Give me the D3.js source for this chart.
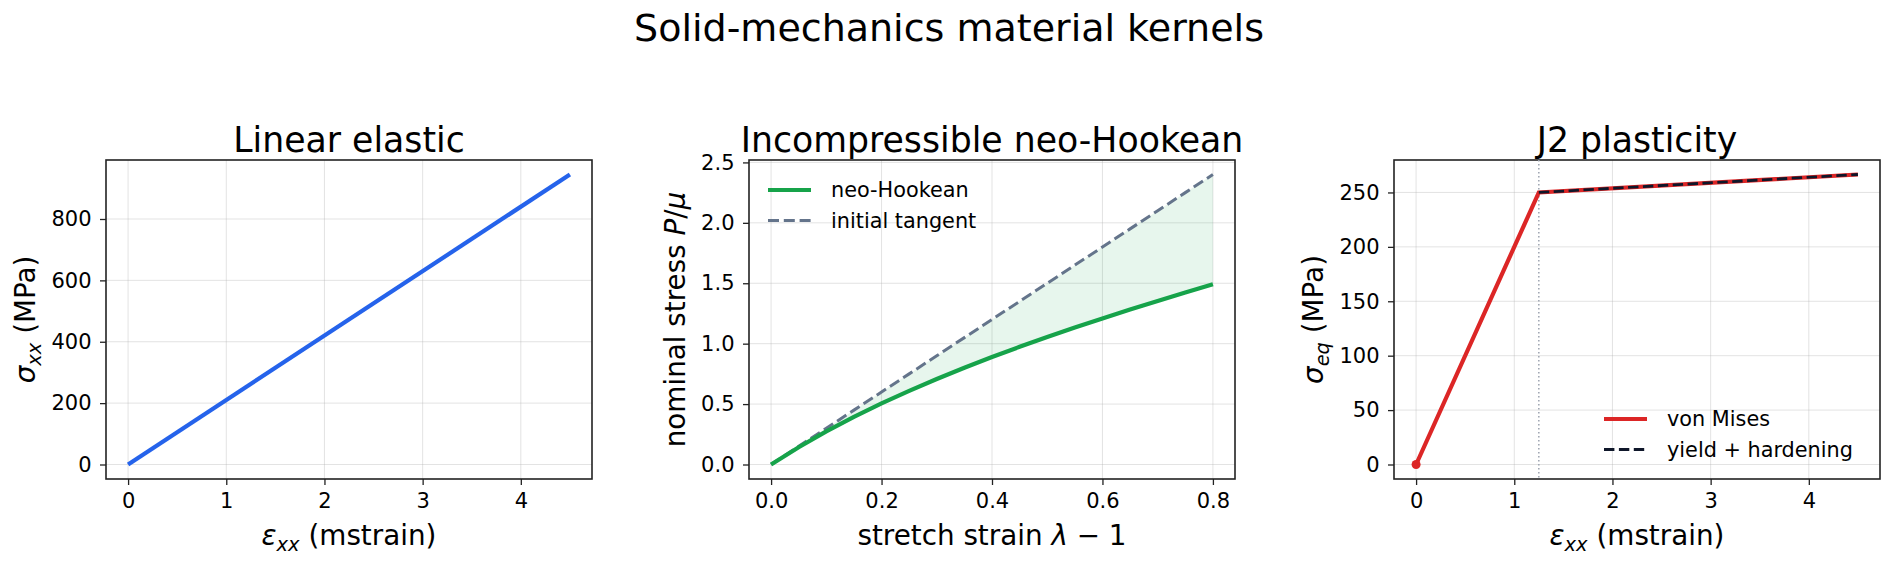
<!DOCTYPE html>
<html>
<head>
<meta charset="utf-8">
<script src="https://cdn.jsdelivr.net/npm/d3@7"></script>
<style>
  body { margin: 0; background: #fff; }
  svg text { font-family: "DejaVu Sans", sans-serif; white-space: pre; }
</style>
</head>
<body>
<div id="chart"></div>
<script>
// ---- data ----
// linear elastic
const elasticStrain = [0, 4.5];            // mstrain
const elasticStress = [0, 945];            // MPa
const elasticXTicks = [0, 1, 2, 3, 4];
const elasticYTicks = [0, 200, 400, 600, 800];

// incompressible neo-Hookean
const neoStrain = [0, 0.05, 0.1, 0.15, 0.2, 0.25, 0.3, 0.35, 0.4, 0.45, 0.5, 0.55, 0.6, 0.65, 0.7, 0.75, 0.8];
const neoStress = [0, 0.143, 0.274, 0.394, 0.506, 0.61, 0.708, 0.801, 0.89, 0.974, 1.056, 1.134, 1.209, 1.283, 1.354, 1.423, 1.491];
const tangentStress = [0, 0.15, 0.3, 0.45, 0.6, 0.75, 0.9, 1.05, 1.2, 1.35, 1.5, 1.65, 1.8, 1.95, 2.1, 2.25, 2.4];
const neoXTicks = [0, 0.2, 0.4, 0.6, 0.8];
const neoYTicks = [0, 0.5, 1.0, 1.5, 2.0, 2.5];

// J2 plasticity
const j2Strain = [0, 1.25, 4.5];
const j2Stress = [0, 250, 266.5];
const hardStrain = [1.25, 4.5];
const hardStress = [250, 266.5];
const yieldStrain = 1.25;
const j2XTicks = [0, 1, 2, 3, 4];
const j2YTicks = [0, 50, 100, 150, 200, 250];

// ---- layout ----
const width = 1892, height = 564;
const plotTop = 160, plotH = 319, plotW = 486;
const lefts = [106, 749, 1394];
const tickFont = 21, labelFont = 27.8, titleFont = 34.7, legendFont = 20.8;

const svg = d3.select("#chart").append("svg")
    .attr("width", width)
    .attr("height", height);

svg.append("text")
    .attr("x", 949)
    .attr("y", 41)
    .attr("text-anchor", "middle")
    .attr("font-size", 38)
    .text("Solid-mechanics material kernels");

// text with italic / subscript pieces (mathtext look-alike)
function rich(sel, parts, size) {
    let shift = 0;
    parts.forEach(p => {
        const ts = sel.append("tspan").text(p.t);
        if (p.it) ts.attr("font-style", "italic");
        const want = p.sub ? size * 0.22 : 0;
        if (want !== shift) { ts.attr("dy", want - shift); shift = want; }
        if (p.sub) ts.attr("font-size", size * 0.7);
    });
}

// 5% margins like matplotlib
function padded(vals) {
    const [a, b] = d3.extent(vals);
    const m = (b - a) * 0.05;
    return [a - m, b + m];
}

function makePanel(i, opt) {
    const g = svg.append("g").attr("transform", `translate(${lefts[i]},${plotTop})`);
    const x = d3.scaleLinear().domain(padded(opt.xs)).range([0, plotW]);
    const y = d3.scaleLinear().domain(padded(opt.ys)).range([plotH, 0]);

    // grid
    g.append("g").selectAll("line").data(opt.xTicks).join("line")
        .attr("x1", d => x(d)).attr("x2", d => x(d))
        .attr("y1", 0).attr("y2", plotH)
        .attr("stroke", "#b0b0b0").attr("stroke-opacity", 0.35).attr("stroke-width", 1);
    g.append("g").selectAll("line").data(opt.yTicks).join("line")
        .attr("y1", d => y(d)).attr("y2", d => y(d))
        .attr("x1", 0).attr("x2", plotW)
        .attr("stroke", "#b0b0b0").attr("stroke-opacity", 0.35).attr("stroke-width", 1);

    const xAxis = g.append("g")
        .attr("transform", `translate(0,${plotH})`)
        .call(d3.axisBottom(x).tickValues(opt.xTicks).tickFormat(opt.xFmt).tickSize(6).tickPadding(8.5));
    const yAxis = g.append("g")
        .call(d3.axisLeft(y).tickValues(opt.yTicks).tickFormat(opt.yFmt).tickSize(6).tickPadding(8.5));
    [xAxis, yAxis].forEach(a => {
        a.select(".domain").remove();
        a.selectAll("line").attr("stroke", "#222").attr("stroke-width", 1.3);
        a.selectAll("text").attr("font-size", tickFont).attr("fill", "#000")
            .attr("font-family", "DejaVu Sans");
    });

    // frame
    g.append("rect")
        .attr("width", plotW).attr("height", plotH)
        .attr("fill", "none").attr("stroke", "#222").attr("stroke-width", 1.6);

    // title
    g.append("text")
        .attr("x", plotW / 2).attr("y", -8.5)
        .attr("text-anchor", "middle")
        .attr("font-size", titleFont)
        .text(opt.title);

    // x label
    rich(g.append("text")
        .attr("x", plotW / 2).attr("y", plotH + 66)
        .attr("text-anchor", "middle")
        .attr("font-size", labelFont), opt.xLabel, labelFont);

    // y label, placed just left of the tick labels
    const bx = yAxis.node().getBBox().x;
    rich(g.append("text")
        .attr("transform", `translate(${bx - 16.5},${plotH / 2}) rotate(-90)`)
        .attr("text-anchor", "middle")
        .attr("font-size", labelFont), opt.yLabel, labelFont);

    return { g, x, y };
}

function legend(g, x0, y0, items) {
    items.forEach((it, k) => {
        const yy = y0 + k * 30.5;
        g.append("line")
            .attr("x1", x0).attr("x2", x0 + 43)
            .attr("y1", yy).attr("y2", yy)
            .attr("stroke", it.color).attr("stroke-width", it.width)
            .attr("stroke-dasharray", it.dash || null);
        g.append("text")
            .attr("x", x0 + 63).attr("y", yy).attr("dy", "0.35em")
            .attr("font-size", legendFont)
            .text(it.label);
    });
}

// ---- panel 1: linear elastic ----
{
    const p = makePanel(0, {
        xs: elasticStrain, ys: elasticStress,
        xTicks: elasticXTicks, yTicks: elasticYTicks,
        xFmt: d3.format("d"), yFmt: d3.format("d"),
        title: "Linear elastic",
        xLabel: [{ t: "ε", it: true }, { t: "xx", it: true, sub: true }, { t: " (mstrain)" }],
        yLabel: [{ t: "σ", it: true }, { t: "xx", it: true, sub: true }, { t: " (MPa)" }]
    });
    p.g.append("path")
        .datum(d3.zip(elasticStrain, elasticStress))
        .attr("d", d3.line().x(d => p.x(d[0])).y(d => p.y(d[1])))
        .attr("fill", "none").attr("stroke", "#2563eb").attr("stroke-width", 4.2)
        .attr("stroke-linecap", "butt");
}

// ---- panel 2: neo-Hookean ----
{
    const p = makePanel(1, {
        xs: neoStrain, ys: tangentStress,
        xTicks: neoXTicks, yTicks: neoYTicks,
        xFmt: d3.format(".1f"), yFmt: d3.format(".1f"),
        title: "Incompressible neo-Hookean",
        xLabel: [{ t: "stretch strain " }, { t: "λ", it: true }, { t: " − 1" }],
        yLabel: [{ t: "nominal stress " }, { t: "P", it: true }, { t: "/" }, { t: "μ", it: true }]
    });
    const rows = d3.zip(neoStrain, neoStress, tangentStress);
    p.g.append("path")
        .datum(rows)
        .attr("d", d3.area().x(d => p.x(d[0])).y0(d => p.y(d[1])).y1(d => p.y(d[2])))
        .attr("fill", "#16a34a").attr("fill-opacity", 0.1);
    p.g.append("path")
        .datum(rows)
        .attr("d", d3.line().x(d => p.x(d[0])).y(d => p.y(d[2])))
        .attr("fill", "none").attr("stroke", "#64748b").attr("stroke-width", 3)
        .attr("stroke-dasharray", "11,4.8");
    p.g.append("path")
        .datum(rows)
        .attr("d", d3.line().x(d => p.x(d[0])).y(d => p.y(d[1])))
        .attr("fill", "none").attr("stroke", "#16a34a").attr("stroke-width", 4.2);
    legend(p.g, 19, 30, [
        { label: "neo-Hookean", color: "#16a34a", width: 4.2 },
        { label: "initial tangent", color: "#64748b", width: 3, dash: "11,4.8" }
    ]);
}

// ---- panel 3: J2 plasticity ----
{
    const p = makePanel(2, {
        xs: j2Strain, ys: j2Stress,
        xTicks: j2XTicks, yTicks: j2YTicks,
        xFmt: d3.format("d"), yFmt: d3.format("d"),
        title: "J2 plasticity",
        xLabel: [{ t: "ε", it: true }, { t: "xx", it: true, sub: true }, { t: " (mstrain)" }],
        yLabel: [{ t: "σ", it: true }, { t: "eq", it: true, sub: true }, { t: " (MPa)" }]
    });
    p.g.append("line")
        .attr("x1", p.x(yieldStrain)).attr("x2", p.x(yieldStrain))
        .attr("y1", 0).attr("y2", plotH)
        .attr("stroke", "#9ca3af").attr("stroke-width", 1.5)
        .attr("stroke-dasharray", "1.5,2.5");
    p.g.append("path")
        .datum(d3.zip(j2Strain, j2Stress))
        .attr("d", d3.line().x(d => p.x(d[0])).y(d => p.y(d[1])))
        .attr("fill", "none").attr("stroke", "#dc2626").attr("stroke-width", 4.2);
    p.g.append("path")
        .datum(d3.zip(hardStrain, hardStress))
        .attr("d", d3.line().x(d => p.x(d[0])).y(d => p.y(d[1])))
        .attr("fill", "none").attr("stroke", "#0f172a").attr("stroke-width", 2.8)
        .attr("stroke-dasharray", "10.4,4.5");
    p.g.append("circle")
        .attr("cx", p.x(j2Strain[0])).attr("cy", p.y(j2Stress[0]))
        .attr("r", 4.5).attr("fill", "#dc2626");
    legend(p.g, plotW - 276, plotH - 60, [
        { label: "von Mises", color: "#dc2626", width: 4.2 },
        { label: "yield + hardening", color: "#0f172a", width: 2.8, dash: "10.4,4.5" }
    ]);
}
</script>
</body>
</html>
